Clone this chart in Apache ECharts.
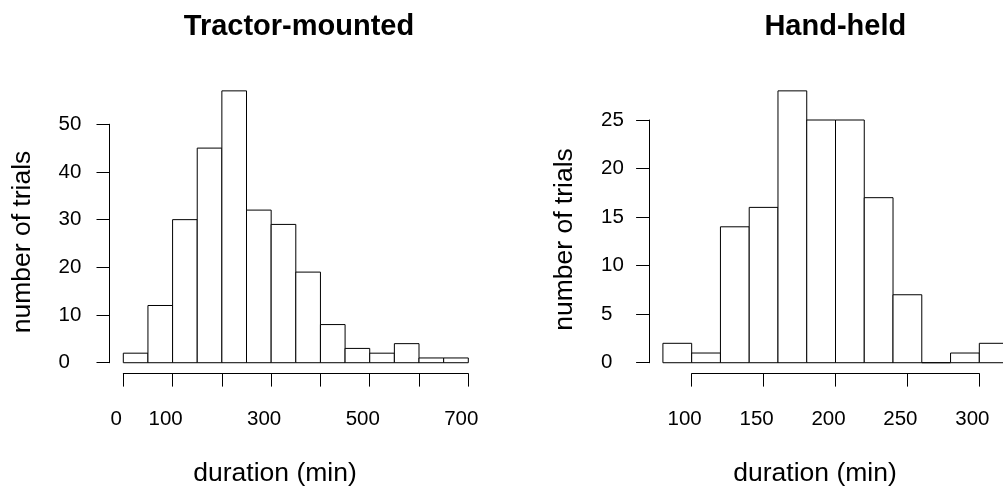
<!DOCTYPE html>
<html><head><meta charset="utf-8">
<script src="https://cdn.jsdelivr.net/npm/echarts@6/dist/echarts.min.js"></script>
<style>html,body{margin:0;padding:0;background:#fff}#c{width:1003px;height:489px}</style>
</head><body><div id="c"></div>
<script>
// ---- data ----
const titles = ['Tractor-mounted', 'Hand-held'];
const xLabel = 'duration (min)';
const yLabel = 'number of trials';

const breaksTractor = [0, 50, 100, 150, 200, 250, 300, 350, 400, 450, 500, 550, 600, 650, 700];
const countsTractor = [2, 12, 30, 45, 57, 32, 29, 19, 8, 3, 2, 4, 1, 1];
const xTicksTractor = [0, 100, 200, 300, 400, 500, 600, 700];
const xTickLabelsTractor = ['0', '100', '', '300', '', '500', '', '700'];
const yTicksTractor = [0, 10, 20, 30, 40, 50];

const breaksHand = [80, 100, 120, 140, 160, 180, 200, 220, 240, 260, 280, 300, 320];
const countsHand = [2, 1, 14, 16, 28, 25, 25, 17, 7, 0, 1, 2];
const xTicksHand = [100, 150, 200, 250, 300];
const xTickLabelsHand = ['100', '150', '200', '250', '300'];
const yTicksHand = [0, 5, 10, 15, 20, 25];

// ---- layout ----
const FONT = "'Liberation Sans', Arial, Helvetica, sans-serif";
const PLOT_TOP = 80, PLOT_H = 293.6;
const panels = [
  { left: 109.5, width: 372.6, breaks: breaksTractor, counts: countsTractor, xTicks: xTicksTractor, xTickLabels: xTickLabelsTractor, yTicks: yTicksTractor, title: titles[0], titleX: 299, xlabX: 275, ylabX: 23, ylabY: 242, yLabMargin: 51 },
  { left: 649.1, width: 372.8, breaks: breaksHand, counts: countsHand, xTicks: xTicksHand, xTickLabels: xTickLabelsHand, yTicks: yTicksHand, title: titles[1], titleX: 835.3, xlabX: 815, ylabX: 564.5, ylabY: 239.5, yLabMargin: 48 }
];

const grid = [], xAxis = [], yAxis = [], series = [], graphic = [];
const axisLineStyle = { color: '#000', width: 1 };
const labelStyle = { color: '#000', fontFamily: FONT, fontSize: 20.5 };
const gridBase = { containLabel: false, outerBoundsMode: 'none' };

panels.forEach((p, i) => {
  const b0 = p.breaks[0], bN = p.breaks[p.breaks.length - 1];
  const ymaxData = Math.max(...p.counts);
  const xr = [b0 - 0.04 * (bN - b0), bN + 0.04 * (bN - b0)];
  const yr = [-0.04 * ymaxData, ymaxData * 1.04];
  const px = v => p.left + (v - xr[0]) / (xr[1] - xr[0]) * p.width;
  const py = v => PLOT_TOP + (yr[1] - v) / (yr[1] - yr[0]) * PLOT_H;

  // bars grid
  const gBars = grid.length;
  grid.push(Object.assign({ left: p.left, top: PLOT_TOP, width: p.width, height: PLOT_H }, gridBase));
  xAxis.push({ gridIndex: gBars, type: 'value', min: xr[0], max: xr[1], show: false });
  yAxis.push({ gridIndex: gBars, type: 'value', min: yr[0], max: yr[1], show: false });
  const data = p.counts.map((c, k) => [p.breaks[k], p.breaks[k + 1], c]);
  series.push({
    type: 'custom', xAxisIndex: xAxis.length - 1, yAxisIndex: yAxis.length - 1,
    clip: false, silent: true,
    encode: { x: [0, 1], y: 2 },
    data: data,
    renderItem: (params, api) => {
      const a = api.coord([api.value(0), 0]);
      const b = api.coord([api.value(1), api.value(2)]);
      return { type: 'rect', shape: { x: a[0], y: b[1], width: b[0] - a[0], height: a[1] - b[1] },
               style: { fill: '#fff', stroke: '#000', lineWidth: 1 } };
    }
  });

  // y axis grid (spans first..last tick)
  const yt0 = p.yTicks[0], ytN = p.yTicks[p.yTicks.length - 1];
  const gY = grid.length;
  grid.push(Object.assign({ left: p.left, top: py(ytN), width: 1, height: py(yt0) - py(ytN) }, gridBase));
  xAxis.push({ gridIndex: gY, type: 'value', min: 0, max: 1, show: false });
  yAxis.push({
    gridIndex: gY, type: 'value', min: yt0, max: ytN, interval: p.yTicks[1] - p.yTicks[0],
    axisLine: { show: true, lineStyle: axisLineStyle },
    axisTick: { show: true, length: 13, lineStyle: axisLineStyle },
    splitLine: { show: false },
    axisLabel: Object.assign({ margin: p.yLabMargin, align: 'left', padding: [0, 0, 3, 0] }, labelStyle)
  });

  // x axis grid (spans first..last tick)
  const xt0 = p.xTicks[0], xtN = p.xTicks[p.xTicks.length - 1];
  const gX = grid.length;
  grid.push(Object.assign({ left: px(xt0), top: PLOT_TOP + PLOT_H - 1, width: px(xtN) - px(xt0), height: 1 }, gridBase));
  const labels = p.xTickLabels, ticks = p.xTicks;
  xAxis.push({
    gridIndex: gX, type: 'value', min: xt0, max: xtN, interval: ticks[1] - ticks[0],
    axisLine: { show: true, onZero: false, lineStyle: axisLineStyle },
    axisTick: { show: true, length: 13, lineStyle: axisLineStyle },
    splitLine: { show: false },
    axisLabel: Object.assign({ margin: 35, showMinLabel: true, showMaxLabel: true, hideOverlap: false, padding: [0, 14, 0, 0],
      formatter: v => { const k = ticks.indexOf(v); return k >= 0 ? labels[k] : ''; } }, labelStyle)
  });
  yAxis.push({ gridIndex: gX, type: 'value', min: 0, max: 1, show: false });

  // titles & axis titles
  graphic.push({ type: 'text', x: p.titleX, y: 27.3, silent: true,
    style: { text: p.title, fill: '#000', font: 'bold 29px ' + FONT, align: 'center', verticalAlign: 'middle' } });
  graphic.push({ type: 'text', x: p.xlabX, y: 474, silent: true,
    style: { text: xLabel, fill: '#000', font: '26.5px ' + FONT, align: 'center', verticalAlign: 'middle' } });
  graphic.push({ type: 'text', x: p.ylabX, y: p.ylabY, rotation: Math.PI / 2, silent: true,
    style: { text: yLabel, fill: '#000', font: '26.5px ' + FONT, align: 'center', verticalAlign: 'middle' } });
});

const chart = echarts.init(document.getElementById('c'), null, { renderer: 'canvas' });
chart.setOption({
  animation: false,
  backgroundColor: '#fff',
  grid, xAxis, yAxis, series, graphic
});
</script>
</body></html>
